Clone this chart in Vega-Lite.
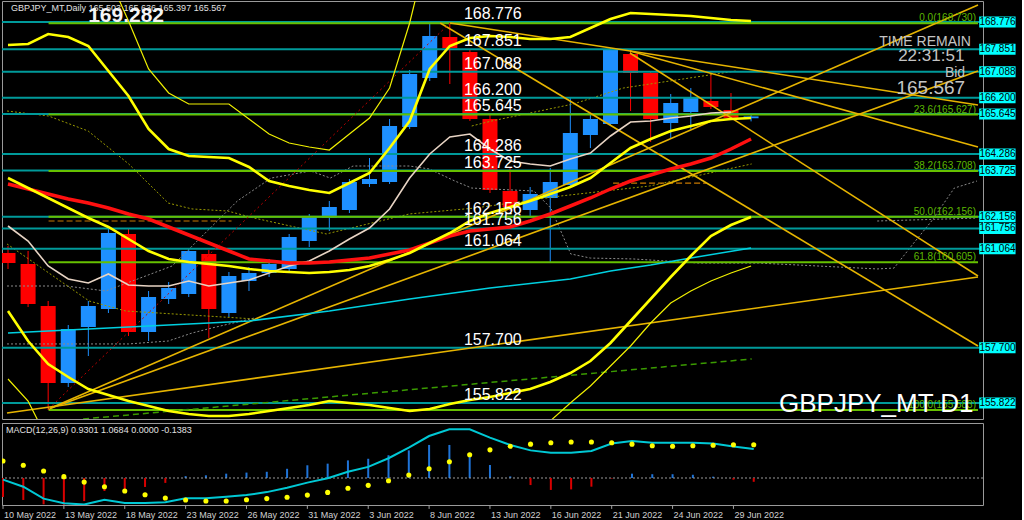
{
"$schema":"https://vega.github.io/schema/vega-lite/v6.json",
"background":"#000000",
"padding":0,
"spacing":2,
"config":{"view":{"stroke":"#9a9a9a","strokeWidth":1},"font":"Liberation Sans"},
"datasets":{
"candles":[
{"i":0,"d":"10 May 2022","o":160.922,"h":161.160,"l":160.378,"c":160.582},
{"i":1,"d":"11 May 2022","o":160.548,"h":160.990,"l":159.086,"c":159.188},
{"i":2,"d":"12 May 2022","o":159.120,"h":159.290,"l":155.583,"c":156.502},
{"i":3,"d":"13 May 2022","o":156.502,"h":158.474,"l":156.366,"c":158.338},
{"i":4,"d":"16 May 2022","o":158.406,"h":159.290,"l":157.420,"c":159.120},
{"i":5,"d":"17 May 2022","o":159.018,"h":161.738,"l":158.882,"c":161.602},
{"i":6,"d":"18 May 2022","o":161.568,"h":161.772,"l":158.100,"c":158.236},
{"i":7,"d":"19 May 2022","o":158.236,"h":159.630,"l":157.930,"c":159.426},
{"i":8,"d":"20 May 2022","o":159.358,"h":159.936,"l":159.188,"c":159.732},
{"i":9,"d":"23 May 2022","o":159.528,"h":161.092,"l":159.426,"c":160.990},
{"i":10,"d":"24 May 2022","o":160.888,"h":161.024,"l":158.032,"c":159.018},
{"i":11,"d":"25 May 2022","o":158.882,"h":160.276,"l":158.746,"c":160.140},
{"i":12,"d":"26 May 2022","o":159.970,"h":160.446,"l":159.630,"c":160.242},
{"i":13,"d":"27 May 2022","o":160.242,"h":160.718,"l":160.106,"c":160.548},
{"i":14,"d":"30 May 2022","o":160.378,"h":161.568,"l":160.310,"c":161.466},
{"i":15,"d":"31 May 2022","o":161.330,"h":162.248,"l":161.126,"c":162.146},
{"i":16,"d":"1 Jun 2022","o":162.112,"h":162.690,"l":161.670,"c":162.486},
{"i":17,"d":"2 Jun 2022","o":162.384,"h":163.438,"l":162.282,"c":163.336},
{"i":18,"d":"3 Jun 2022","o":163.268,"h":164.152,"l":163.166,"c":163.438},
{"i":19,"d":"6 Jun 2022","o":163.336,"h":165.478,"l":163.268,"c":165.240},
{"i":20,"d":"7 Jun 2022","o":165.206,"h":167.144,"l":165.138,"c":167.008},
{"i":21,"d":"8 Jun 2022","o":166.872,"h":168.730,"l":166.770,"c":168.300},
{"i":22,"d":"9 Jun 2022","o":168.266,"h":168.776,"l":166.668,"c":167.892},
{"i":23,"d":"10 Jun 2022","o":167.756,"h":167.858,"l":165.410,"c":165.478},
{"i":24,"d":"13 Jun 2022","o":165.478,"h":165.614,"l":162.962,"c":163.064},
{"i":25,"d":"14 Jun 2022","o":163.030,"h":163.812,"l":162.350,"c":162.486},
{"i":26,"d":"15 Jun 2022","o":162.384,"h":163.166,"l":162.146,"c":162.928},
{"i":27,"d":"16 Jun 2022","o":162.792,"h":163.812,"l":160.582,"c":163.336},
{"i":28,"d":"17 Jun 2022","o":163.234,"h":166.192,"l":163.166,"c":165.002},
{"i":29,"d":"20 Jun 2022","o":164.934,"h":165.614,"l":164.492,"c":165.478},
{"i":30,"d":"21 Jun 2022","o":165.308,"h":167.892,"l":165.240,"c":167.824},
{"i":31,"d":"22 Jun 2022","o":167.688,"h":167.824,"l":165.750,"c":167.042},
{"i":32,"d":"23 Jun 2022","o":167.042,"h":167.110,"l":164.696,"c":165.478},
{"i":33,"d":"24 Jun 2022","o":165.342,"h":166.328,"l":164.832,"c":166.022},
{"i":34,"d":"27 Jun 2022","o":165.716,"h":166.532,"l":165.138,"c":166.192},
{"i":35,"d":"28 Jun 2022","o":166.090,"h":167.008,"l":165.818,"c":165.886},
{"i":36,"d":"29 Jun 2022","o":165.784,"h":166.362,"l":165.480,"c":165.520},
{"i":37,"d":"30 Jun 2022","o":165.503,"h":165.636,"l":165.397,"c":165.567}
],
"ind":[
{"s":"A","i":0,"v":167.994},{"s":"A","i":1,"v":168.028},{"s":"A","i":2,"v":168.368},{"s":"A","i":3,"v":168.266},{"s":"A","i":4,"v":167.960},{"s":"A","i":5,"v":167.110},{"s":"A","i":6,"v":166.260},{"s":"A","i":7,"v":165.138},{"s":"A","i":8,"v":164.458},{"s":"A","i":9,"v":164.220},{"s":"A","i":10,"v":164.186},{"s":"A","i":11,"v":164.152},{"s":"A","i":12,"v":163.846},{"s":"A","i":13,"v":163.370},{"s":"A","i":14,"v":163.200},{"s":"A","i":15,"v":163.064},{"s":"A","i":16,"v":162.962},{"s":"A","i":17,"v":163.302},{"s":"A","i":18,"v":163.642},{"s":"A","i":19,"v":164.492},{"s":"A","i":20,"v":165.410},{"s":"A","i":21,"v":167.178},{"s":"A","i":22,"v":167.960},{"s":"A","i":23,"v":168.232},{"s":"A","i":24,"v":168.300},{"s":"A","i":25,"v":168.266},{"s":"A","i":26,"v":168.198},{"s":"A","i":27,"v":168.198},{"s":"A","i":28,"v":168.266},{"s":"A","i":29,"v":168.572},{"s":"A","i":30,"v":168.878},{"s":"A","i":31,"v":169.082},{"s":"A","i":32,"v":169.048},{"s":"A","i":33,"v":169.014},{"s":"A","i":34,"v":168.980},{"s":"A","i":35,"v":168.912},{"s":"A","i":36,"v":168.844},{"s":"A","i":37,"v":168.810},
{"s":"D","i":0,"v":163.472},{"s":"D","i":1,"v":163.132},{"s":"D","i":2,"v":162.792},{"s":"D","i":3,"v":162.452},{"s":"D","i":4,"v":162.112},{"s":"D","i":5,"v":161.806},{"s":"D","i":6,"v":161.398},{"s":"D","i":7,"v":160.990},{"s":"D","i":8,"v":160.718},{"s":"D","i":9,"v":160.616},{"s":"D","i":10,"v":160.548},{"s":"D","i":11,"v":160.480},{"s":"D","i":12,"v":160.378},{"s":"D","i":13,"v":160.310},{"s":"D","i":14,"v":160.276},{"s":"D","i":15,"v":160.242},{"s":"D","i":16,"v":160.276},{"s":"D","i":17,"v":160.344},{"s":"D","i":18,"v":160.480},{"s":"D","i":19,"v":160.684},{"s":"D","i":20,"v":160.922},{"s":"D","i":21,"v":161.262},{"s":"D","i":22,"v":161.602},{"s":"D","i":23,"v":162.010},{"s":"D","i":24,"v":162.282},{"s":"D","i":25,"v":162.486},{"s":"D","i":26,"v":162.690},{"s":"D","i":27,"v":162.928},{"s":"D","i":28,"v":163.166},{"s":"D","i":29,"v":163.472},{"s":"D","i":30,"v":163.982},{"s":"D","i":31,"v":164.492},{"s":"D","i":32,"v":164.798},{"s":"D","i":33,"v":165.070},{"s":"D","i":34,"v":165.240},{"s":"D","i":35,"v":165.410},{"s":"D","i":36,"v":165.478},{"s":"D","i":37,"v":165.512},
{"s":"C","i":0,"v":158.950},{"s":"C","i":1,"v":157.930},{"s":"C","i":2,"v":157.148},{"s":"C","i":3,"v":156.706},{"s":"C","i":4,"v":156.298},{"s":"C","i":5,"v":156.094},{"s":"C","i":6,"v":155.890},{"s":"C","i":7,"v":155.720},{"s":"C","i":8,"v":155.550},{"s":"C","i":9,"v":155.448},{"s":"C","i":10,"v":155.380},{"s":"C","i":11,"v":155.380},{"s":"C","i":12,"v":155.448},{"s":"C","i":13,"v":155.550},{"s":"C","i":14,"v":155.652},{"s":"C","i":15,"v":155.754},{"s":"C","i":16,"v":155.890},{"s":"C","i":17,"v":155.822},{"s":"C","i":18,"v":155.754},{"s":"C","i":19,"v":155.652},{"s":"C","i":20,"v":155.550},{"s":"C","i":21,"v":155.618},{"s":"C","i":22,"v":155.788},{"s":"C","i":23,"v":155.924},{"s":"C","i":24,"v":156.026},{"s":"C","i":25,"v":156.162},{"s":"C","i":26,"v":156.298},{"s":"C","i":27,"v":156.536},{"s":"C","i":28,"v":156.842},{"s":"C","i":29,"v":157.250},{"s":"C","i":30,"v":157.862},{"s":"C","i":31,"v":158.610},{"s":"C","i":32,"v":159.358},{"s":"C","i":33,"v":160.106},{"s":"C","i":34,"v":160.820},{"s":"C","i":35,"v":161.500},{"s":"C","i":36,"v":161.874},{"s":"C","i":37,"v":162.146},
{"s":"B","i":5,"v":170.340},{"s":"B","i":6,"v":168.810},{"s":"B","i":7,"v":167.178},{"s":"B","i":8,"v":166.362},{"s":"B","i":9,"v":165.988},{"s":"B","i":10,"v":165.988},{"s":"B","i":11,"v":165.988},{"s":"B","i":12,"v":165.478},{"s":"B","i":13,"v":164.968},{"s":"B","i":14,"v":164.662},{"s":"B","i":15,"v":164.526},{"s":"B","i":16,"v":164.424},{"s":"B","i":17,"v":164.968},{"s":"B","i":18,"v":165.512},{"s":"B","i":19,"v":166.532},{"s":"B","i":20,"v":168.742},{"s":"B","i":21,"v":171.530},
{"s":"E1","i":0,"v":156.638},{"s":"E1","i":1,"v":155.890},{"s":"E1","i":2,"v":154.530},
{"s":"E2","i":26,"v":154.530},{"s":"E2","i":27,"v":155.210},{"s":"E2","i":28,"v":155.822},{"s":"E2","i":29,"v":156.400},{"s":"E2","i":30,"v":157.080},{"s":"E2","i":31,"v":157.760},{"s":"E2","i":32,"v":158.542},{"s":"E2","i":33,"v":159.222},{"s":"E2","i":34,"v":159.630},{"s":"E2","i":35,"v":159.970},{"s":"E2","i":36,"v":160.242},{"s":"E2","i":37,"v":160.480},
{"s":"R","i":0,"v":163.268},{"s":"R","i":1,"v":163.098},{"s":"R","i":2,"v":162.928},{"s":"R","i":3,"v":162.758},{"s":"R","i":4,"v":162.622},{"s":"R","i":5,"v":162.452},{"s":"R","i":6,"v":162.248},{"s":"R","i":7,"v":162.078},{"s":"R","i":8,"v":161.806},{"s":"R","i":9,"v":161.534},{"s":"R","i":10,"v":161.262},{"s":"R","i":11,"v":160.990},{"s":"R","i":12,"v":160.718},{"s":"R","i":13,"v":160.650},{"s":"R","i":14,"v":160.582},{"s":"R","i":15,"v":160.582},{"s":"R","i":16,"v":160.616},{"s":"R","i":17,"v":160.684},{"s":"R","i":18,"v":160.752},{"s":"R","i":19,"v":160.888},{"s":"R","i":20,"v":161.024},{"s":"R","i":21,"v":161.262},{"s":"R","i":22,"v":161.500},{"s":"R","i":23,"v":161.670},{"s":"R","i":24,"v":161.738},{"s":"R","i":25,"v":161.806},{"s":"R","i":26,"v":162.010},{"s":"R","i":27,"v":162.248},{"s":"R","i":28,"v":162.520},{"s":"R","i":29,"v":162.792},{"s":"R","i":30,"v":163.098},{"s":"R","i":31,"v":163.370},{"s":"R","i":32,"v":163.574},{"s":"R","i":33,"v":163.778},{"s":"R","i":34,"v":163.948},{"s":"R","i":35,"v":164.152},{"s":"R","i":36,"v":164.458},{"s":"R","i":37,"v":164.798},
{"s":"W","i":0,"v":161.840},{"s":"W","i":1,"v":161.330},{"s":"W","i":2,"v":160.480},{"s":"W","i":3,"v":160.038},{"s":"W","i":4,"v":159.902},{"s":"W","i":5,"v":160.208},{"s":"W","i":6,"v":159.834},{"s":"W","i":7,"v":159.800},{"s":"W","i":8,"v":159.800},{"s":"W","i":9,"v":159.970},{"s":"W","i":10,"v":159.800},{"s":"W","i":11,"v":159.902},{"s":"W","i":12,"v":160.004},{"s":"W","i":13,"v":160.242},{"s":"W","i":14,"v":160.480},{"s":"W","i":15,"v":160.650},{"s":"W","i":16,"v":160.990},{"s":"W","i":17,"v":161.398},{"s":"W","i":18,"v":161.772},{"s":"W","i":19,"v":162.418},{"s":"W","i":20,"v":163.472},{"s":"W","i":21,"v":164.288},{"s":"W","i":22,"v":164.866},{"s":"W","i":23,"v":164.968},{"s":"W","i":24,"v":164.458},{"s":"W","i":25,"v":164.050},{"s":"W","i":26,"v":163.948},{"s":"W","i":27,"v":163.880},{"s":"W","i":28,"v":164.118},{"s":"W","i":29,"v":164.322},{"s":"W","i":30,"v":164.900},{"s":"W","i":31,"v":165.376},{"s":"W","i":32,"v":165.410},{"s":"W","i":33,"v":165.512},{"s":"W","i":34,"v":165.580},{"s":"W","i":35,"v":165.682},{"s":"W","i":36,"v":165.716},
{"s":"M","i":0,"v":158.202},{"s":"M","i":4,"v":158.338},{"s":"M","i":8,"v":158.474},{"s":"M","i":12,"v":158.610},{"s":"M","i":16,"v":158.950},{"s":"M","i":20,"v":159.358},{"s":"M","i":24,"v":159.732},{"s":"M","i":28,"v":160.038},{"s":"M","i":30,"v":160.310},{"s":"M","i":32,"v":160.514},{"s":"M","i":34,"v":160.752},{"s":"M","i":37,"v":161.092}
],
"dots":[
{"s":"S1","i":-0.05,"v":159.80},{"s":"S1","i":2.90,"v":159.80},{"s":"S1","i":4.87,"v":159.63},{"s":"S1","i":8.17,"v":160.48},{"s":"S1","i":11.42,"v":162.69},{"s":"S1","i":13.10,"v":163.47},{"s":"S1","i":15.07,"v":163.71},{"s":"S1","i":16.05,"v":163.47},{"s":"S1","i":17.18,"v":163.88},{"s":"S1","i":19.99,"v":163.88},{"s":"S1","i":20.97,"v":163.78},{"s":"S1","i":22.25,"v":163.37},{"s":"S1","i":23.09,"v":163.13},{"s":"S1","i":26.19,"v":163.03},{"s":"S1","i":27.03,"v":162.45},{"s":"S1","i":28.02,"v":160.89},{"s":"S1","i":29.00,"v":160.75},{"s":"S1","i":31.12,"v":160.72},{"s":"S1","i":34.42,"v":160.58},{"s":"S1","i":37.37,"v":160.58},{"s":"S1","i":43.28,"v":160.38},{"s":"S1","i":44.12,"v":160.41},{"s":"S1","i":45.10,"v":161.26},{"s":"S1","i":45.99,"v":162.01},{"s":"S1","i":47.12,"v":163.13},{"s":"S1","i":48.25,"v":163.37},
{"s":"S2","i":-0.05,"v":157.83},{"s":"S2","i":6.01,"v":157.83},{"s":"S2","i":7.98,"v":157.93},{"s":"S2","i":9.16,"v":158.20},{"s":"S2","i":10.14,"v":158.37},{"s":"S2","i":12.26,"v":158.71},
{"s":"S3","i":43.28,"v":162.01},{"s":"S3","i":48.25,"v":162.11},
{"s":"O1","i":-0.05,"v":165.75},{"s":"O1","i":2.02,"v":165.58},{"s":"O1","i":3.99,"v":165.07},{"s":"O1","i":6.01,"v":163.95},{"s":"O1","i":7.98,"v":162.62},{"s":"O1","i":9.16,"v":162.42},{"s":"O1","i":10.93,"v":162.35},{"s":"O1","i":12.26,"v":162.11},{"s":"O1","i":15.85,"v":161.57},{"s":"O1","i":19.99,"v":162.25},{"s":"O1","i":23.24,"v":162.45},{"s":"O1","i":27.52,"v":162.86},{"s":"O1","i":31.95,"v":163.20},{"s":"O1","i":37.03,"v":163.95},
{"s":"O2","i":-0.05,"v":161.23},{"s":"O2","i":4.04,"v":159.29},{"s":"O2","i":5.86,"v":158.95},{"s":"O2","i":12.26,"v":158.68},
{"s":"O3","i":23.09,"v":165.24},{"s":"O3","i":24.08,"v":165.41},{"s":"O3","i":28.16,"v":165.99},{"s":"O3","i":30.63,"v":166.53},{"s":"O3","i":36.24,"v":167.11},
{"s":"D1","i":2.02,"v":162.01},{"s":"D1","i":11.13,"v":162.01},
{"s":"D2","i":30.13,"v":163.30},{"s":"D2","i":34.76,"v":163.30}
],
"trend":[
{"s":"T1","i":2.02,"v":155.618},{"s":"T1","i":48.3,"v":169.354},
{"s":"T2","i":2.02,"v":155.618},{"s":"T2","i":48.3,"v":167.110},
{"s":"T3","i":-0.05,"v":155.482},{"s":"T3","i":48.3,"v":160.106},
{"s":"T4","i":22.01,"v":168.742},{"s":"T4","i":48.3,"v":165.954},
{"s":"T5","i":21.52,"v":168.742},{"s":"T5","i":48.3,"v":157.760},
{"s":"T6","i":30.97,"v":167.722},{"s":"T6","i":48.3,"v":160.140},
{"s":"T7","i":30.97,"v":167.790},{"s":"T7","i":48.3,"v":164.526},
{"s":"F","i":2.02,"v":155.618},{"s":"F","i":22.01,"v":168.742},
{"s":"G","i":3.74,"v":155.278},{"s":"G","i":37.03,"v":157.318}
],
"levels":[{"v":168.776},{"v":167.851},{"v":167.088},{"v":166.200},{"v":165.645},{"v":164.286},{"v":163.725},{"v":162.156},{"v":161.756},{"v":161.064},{"v":157.700},{"v":155.822}],
"fib":[{"t":"0.0(168.730)","v":168.730},{"t":"23.6(165.627)","v":165.627},{"t":"38.2(163.708)","v":163.708},{"t":"50.0(162.156)","v":162.156},{"t":"61.8(160.605)","v":160.605},{"t":"100.0(155.583)","v":155.583}],
"notes":[
{"k":"hdr","t":"GBPJPY_MT,Daily  165.503 165.636 165.397 165.567","i":0.15,"v":169.252},
{"k":"big","t":"169.282","i":3.99,"v":168.98},
{"k":"tr","t":"TIME REMAIN","i":47.95,"v":168.096},
{"k":"tm","t":"22:31:51","i":47.62,"v":167.62},
{"k":"bid","t":"Bid","i":47.66,"v":167.042},
{"k":"bidv","t":"165.567","i":47.66,"v":166.532},
{"k":"sym","t":"GBPJPY_MT D1","i":48.08,"v":155.788}
],
"macd":[
{"i":0,"h":-0.70,"s":-0.06,"d":0.63},{"i":1,"h":-0.81,"s":-0.32,"d":0.47},{"i":2,"h":-0.97,"s":-0.76,"d":0.26},{"i":3,"h":-0.99,"s":-0.93,"d":0.05},{"i":4,"h":-0.85,"s":-0.98,"d":-0.15},{"i":5,"h":-0.48,"s":-0.80,"d":-0.32},{"i":6,"h":-0.55,"s":-0.92,"d":-0.48},{"i":7,"h":-0.33,"s":-0.92,"d":-0.62},{"i":8,"h":-0.18,"s":-0.89,"d":-0.74},{"i":9,"h":0.07,"s":-0.75,"d":-0.81},{"i":10,"h":0.10,"s":-0.75,"d":-0.85},{"i":11,"h":0.16,"s":-0.69,"d":-0.85},{"i":12,"h":0.20,"s":-0.63,"d":-0.80},{"i":13,"h":0.23,"s":-0.52,"d":-0.76},{"i":14,"h":0.34,"s":-0.36,"d":-0.71},{"i":15,"h":0.47,"s":-0.17,"d":-0.63},{"i":16,"h":0.53,"s":-0.01,"d":-0.53},{"i":17,"h":0.65,"s":0.23,"d":-0.38},{"i":18,"h":0.71,"s":0.41,"d":-0.27},{"i":19,"h":0.84,"s":0.73,"d":-0.10},{"i":20,"h":1.02,"s":1.12,"d":0.11},{"i":21,"h":1.22,"s":1.55,"d":0.34},{"i":22,"h":1.22,"s":1.80,"d":0.60},{"i":23,"h":0.93,"s":1.80,"d":0.86},{"i":24,"h":0.48,"s":1.49,"d":1.04},{"i":25,"h":0.06,"s":1.22,"d":1.17},{"i":26,"h":-0.26,"s":1.02,"d":1.25},{"i":27,"h":-0.44,"s":0.93,"d":1.30},{"i":28,"h":-0.42,"s":0.93,"d":1.33},{"i":29,"h":-0.32,"s":1.00,"d":1.33},{"i":30,"h":-0.02,"s":1.27,"d":1.30},{"i":31,"h":0.16,"s":1.37,"d":1.25},{"i":32,"h":0.14,"s":1.30,"d":1.19},{"i":33,"h":0.14,"s":1.30,"d":1.17},{"i":34,"h":0.12,"s":1.30,"d":1.19},{"i":35,"h":0.05,"s":1.27,"d":1.21},{"i":36,"h":-0.06,"s":1.16,"d":1.23},{"i":37,"h":-0.14,"s":1.07,"d":1.23}
]
},
"vconcat":[
{
"width":981,"height":418,
"layer":[
{"data":{"name":"candles"},"mark":{"type":"rule","strokeWidth":1,"clip":true},
 "encoding":{"x":{"field":"i","type":"quantitative","scale":{"domain":[-0.05,48.3],"nice":false,"zero":false},"axis":null},
 "y":{"field":"l","type":"quantitative","scale":{"domain":[155.278,169.49],"nice":false,"zero":false},
  "axis":{"orient":"right","values":[155.65,156.71,158.83,159.87,160.95,163.05,164.11,165.17,167.29,168.35],"format":".3f","labelColor":"#d0d0d0","labelFont":"Liberation Sans","labelFontSize":10,"tickColor":"#a0a0a0","tickSize":3,"labelPadding":2,"domain":false,"grid":false,"title":null,"labelOverlap":false}},
 "y2":{"field":"h"},
 "color":{"condition":{"test":"datum.c >= datum.o","value":"#1e90ff"},"value":"#ff0000"}}},
{"data":{"name":"candles"},"mark":{"type":"bar","size":15,"clip":true},
 "encoding":{"x":{"field":"i","type":"quantitative","scale":{"domain":[-0.05,48.3],"nice":false,"zero":false},"axis":null},
 "y":{"field":"o","type":"quantitative","scale":{"domain":[155.278,169.49],"nice":false,"zero":false},"axis":null},
 "y2":{"field":"c"},
 "color":{"condition":{"test":"datum.c >= datum.o","value":"#1e90ff"},"value":"#ff0000"}}},
{"data":{"name":"dots"},"transform":[{"filter":"indexof(datum.s,'S')==0"}],"mark":{"type":"line","color":"#8a8a8a","strokeWidth":1,"strokeDash":[2,2],"clip":true},
 "encoding":{"x":{"field":"i","type":"quantitative","scale":{"domain":[-0.05,48.3],"nice":false,"zero":false},"axis":null},
 "y":{"field":"v","type":"quantitative","scale":{"domain":[155.278,169.49],"nice":false,"zero":false},"axis":null},"detail":{"field":"s"}}},
{"data":{"name":"dots"},"transform":[{"filter":"indexof(datum.s,'O')==0"}],"mark":{"type":"line","color":"#9a9a00","strokeWidth":1,"strokeDash":[2,2],"clip":true},
 "encoding":{"x":{"field":"i","type":"quantitative","scale":{"domain":[-0.05,48.3],"nice":false,"zero":false},"axis":null},
 "y":{"field":"v","type":"quantitative","scale":{"domain":[155.278,169.49],"nice":false,"zero":false},"axis":null},"detail":{"field":"s"}}},
{"data":{"name":"dots"},"transform":[{"filter":"indexof(datum.s,'D')==0"}],"mark":{"type":"line","color":"#c87800","strokeWidth":1.2,"strokeDash":[6,3],"clip":true},
 "encoding":{"x":{"field":"i","type":"quantitative","scale":{"domain":[-0.05,48.3],"nice":false,"zero":false},"axis":null},
 "y":{"field":"v","type":"quantitative","scale":{"domain":[155.278,169.49],"nice":false,"zero":false},"axis":null},"detail":{"field":"s"}}},
{"data":{"name":"levels"},"mark":{"type":"rule","color":"#009a9a","strokeWidth":2},
 "encoding":{"y":{"field":"v","type":"quantitative","scale":{"domain":[155.278,169.49],"nice":false,"zero":false},"axis":null}}},
{"data":{"name":"fib"},"mark":{"type":"rule","color":"#66c000","strokeWidth":2,"clip":true},
 "encoding":{"x":{"datum":2.02,"type":"quantitative","scale":{"domain":[-0.05,48.3],"nice":false,"zero":false},"axis":null},"x2":{"datum":48.3},
 "y":{"field":"v","type":"quantitative","scale":{"domain":[155.278,169.49],"nice":false,"zero":false},"axis":null}}},
{"data":{"name":"trend"},"transform":[{"filter":"indexof(datum.s,'T')==0"}],"mark":{"type":"line","color":"#e6b400","strokeWidth":1.6,"clip":true},
 "encoding":{"x":{"field":"i","type":"quantitative","scale":{"domain":[-0.05,48.3],"nice":false,"zero":false},"axis":null},
 "y":{"field":"v","type":"quantitative","scale":{"domain":[155.278,169.49],"nice":false,"zero":false},"axis":null},"detail":{"field":"s"}}},
{"data":{"name":"trend"},"transform":[{"filter":"datum.s=='F'"}],"mark":{"type":"line","color":"#c00000","strokeWidth":1,"strokeDash":[2,3],"clip":true},
 "encoding":{"x":{"field":"i","type":"quantitative","scale":{"domain":[-0.05,48.3],"nice":false,"zero":false},"axis":null},
 "y":{"field":"v","type":"quantitative","scale":{"domain":[155.278,169.49],"nice":false,"zero":false},"axis":null}}},
{"data":{"name":"trend"},"transform":[{"filter":"datum.s=='G'"}],"mark":{"type":"line","color":"#3a9a00","strokeWidth":1.5,"strokeDash":[6,4],"clip":true},
 "encoding":{"x":{"field":"i","type":"quantitative","scale":{"domain":[-0.05,48.3],"nice":false,"zero":false},"axis":null},
 "y":{"field":"v","type":"quantitative","scale":{"domain":[155.278,169.49],"nice":false,"zero":false},"axis":null}}},
{"data":{"name":"ind"},"transform":[{"filter":"datum.s=='M'"}],"mark":{"type":"line","color":"#00d0e0","strokeWidth":1.5,"clip":true},
 "encoding":{"x":{"field":"i","type":"quantitative","scale":{"domain":[-0.05,48.3],"nice":false,"zero":false},"axis":null},
 "y":{"field":"v","type":"quantitative","scale":{"domain":[155.278,169.49],"nice":false,"zero":false},"axis":null}}},
{"data":{"name":"ind"},"transform":[{"filter":"datum.s=='W'"}],"mark":{"type":"line","color":"#e8d4c4","strokeWidth":1.6,"clip":true},
 "encoding":{"x":{"field":"i","type":"quantitative","scale":{"domain":[-0.05,48.3],"nice":false,"zero":false},"axis":null},
 "y":{"field":"v","type":"quantitative","scale":{"domain":[155.278,169.49],"nice":false,"zero":false},"axis":null}}},
{"data":{"name":"ind"},"transform":[{"filter":"datum.s=='R'"}],"mark":{"type":"line","color":"#ff1010","strokeWidth":3.5,"clip":true},
 "encoding":{"x":{"field":"i","type":"quantitative","scale":{"domain":[-0.05,48.3],"nice":false,"zero":false},"axis":null},
 "y":{"field":"v","type":"quantitative","scale":{"domain":[155.278,169.49],"nice":false,"zero":false},"axis":null}}},
{"data":{"name":"ind"},"transform":[{"filter":"datum.s=='B' || datum.s=='E1' || datum.s=='E2'"}],"mark":{"type":"line","color":"#f0f000","strokeWidth":1.2,"clip":true},
 "encoding":{"x":{"field":"i","type":"quantitative","scale":{"domain":[-0.05,48.3],"nice":false,"zero":false},"axis":null},
 "y":{"field":"v","type":"quantitative","scale":{"domain":[155.278,169.49],"nice":false,"zero":false},"axis":null},"detail":{"field":"s"}}},
{"data":{"name":"ind"},"transform":[{"filter":"datum.s=='A' || datum.s=='D' || datum.s=='C'"}],"mark":{"type":"line","color":"#ffff00","strokeWidth":2.6,"clip":true},
 "encoding":{"x":{"field":"i","type":"quantitative","scale":{"domain":[-0.05,48.3],"nice":false,"zero":false},"axis":null},
 "y":{"field":"v","type":"quantitative","scale":{"domain":[155.278,169.49],"nice":false,"zero":false},"axis":null},"detail":{"field":"s"}}},
{"data":{"name":"levels"},"mark":{"type":"text","align":"left","baseline":"alphabetic","dy":-3,"fontSize":16,"color":"#ffffff","font":"Liberation Sans"},
 "encoding":{"x":{"datum":22.7,"type":"quantitative","scale":{"domain":[-0.05,48.3],"nice":false,"zero":false},"axis":null},
 "y":{"field":"v","type":"quantitative","scale":{"domain":[155.278,169.49],"nice":false,"zero":false},"axis":null},
 "text":{"field":"v","format":".3f"}}},
{"data":{"name":"fib"},"mark":{"type":"text","align":"right","baseline":"alphabetic","dy":-2,"fontSize":10,"color":"#5cb800","font":"Liberation Sans"},
 "encoding":{"x":{"datum":48.2,"type":"quantitative","scale":{"domain":[-0.05,48.3],"nice":false,"zero":false},"axis":null},
 "y":{"field":"v","type":"quantitative","scale":{"domain":[155.278,169.49],"nice":false,"zero":false},"axis":null},
 "text":{"field":"t"}}},
{"data":{"name":"notes"},"transform":[{"filter":"datum.k=='hdr'"}],"mark":{"type":"text","align":"left","baseline":"middle","fontSize":9,"color":"#e0e0e0","font":"Liberation Sans"},
 "encoding":{"x":{"field":"i","type":"quantitative","scale":{"domain":[-0.05,48.3],"nice":false,"zero":false},"axis":null},
 "y":{"field":"v","type":"quantitative","scale":{"domain":[155.278,169.49],"nice":false,"zero":false},"axis":null},"text":{"field":"t"}}},
{"data":{"name":"notes"},"transform":[{"filter":"datum.k=='big'"}],"mark":{"type":"text","align":"left","baseline":"middle","fontSize":21,"fontWeight":"bold","color":"#f4f4f4","font":"Liberation Sans"},
 "encoding":{"x":{"field":"i","type":"quantitative","scale":{"domain":[-0.05,48.3],"nice":false,"zero":false},"axis":null},
 "y":{"field":"v","type":"quantitative","scale":{"domain":[155.278,169.49],"nice":false,"zero":false},"axis":null},"text":{"field":"t"}}},
{"data":{"name":"notes"},"transform":[{"filter":"datum.k=='tr'"}],"mark":{"type":"text","align":"right","baseline":"middle","fontSize":14,"color":"#c4c4c4","font":"Liberation Sans"},
 "encoding":{"x":{"field":"i","type":"quantitative","scale":{"domain":[-0.05,48.3],"nice":false,"zero":false},"axis":null},
 "y":{"field":"v","type":"quantitative","scale":{"domain":[155.278,169.49],"nice":false,"zero":false},"axis":null},"text":{"field":"t"}}},
{"data":{"name":"notes"},"transform":[{"filter":"datum.k=='tm'"}],"mark":{"type":"text","align":"right","baseline":"middle","fontSize":17,"color":"#c4c4c4","font":"Liberation Sans"},
 "encoding":{"x":{"field":"i","type":"quantitative","scale":{"domain":[-0.05,48.3],"nice":false,"zero":false},"axis":null},
 "y":{"field":"v","type":"quantitative","scale":{"domain":[155.278,169.49],"nice":false,"zero":false},"axis":null},"text":{"field":"t"}}},
{"data":{"name":"notes"},"transform":[{"filter":"datum.k=='bid'"}],"mark":{"type":"text","align":"right","baseline":"middle","fontSize":14,"color":"#c4c4c4","font":"Liberation Sans"},
 "encoding":{"x":{"field":"i","type":"quantitative","scale":{"domain":[-0.05,48.3],"nice":false,"zero":false},"axis":null},
 "y":{"field":"v","type":"quantitative","scale":{"domain":[155.278,169.49],"nice":false,"zero":false},"axis":null},"text":{"field":"t"}}},
{"data":{"name":"notes"},"transform":[{"filter":"datum.k=='bidv'"}],"mark":{"type":"text","align":"right","baseline":"middle","fontSize":19,"color":"#c4c4c4","font":"Liberation Sans"},
 "encoding":{"x":{"field":"i","type":"quantitative","scale":{"domain":[-0.05,48.3],"nice":false,"zero":false},"axis":null},
 "y":{"field":"v","type":"quantitative","scale":{"domain":[155.278,169.49],"nice":false,"zero":false},"axis":null},"text":{"field":"t"}}},
{"data":{"name":"notes"},"transform":[{"filter":"datum.k=='sym'"}],"mark":{"type":"text","align":"right","baseline":"middle","fontSize":26,"color":"#ffffff","font":"Liberation Sans"},
 "encoding":{"x":{"field":"i","type":"quantitative","scale":{"domain":[-0.05,48.3],"nice":false,"zero":false},"axis":null},
 "y":{"field":"v","type":"quantitative","scale":{"domain":[155.278,169.49],"nice":false,"zero":false},"axis":null},"text":{"field":"t"}}},
{"data":{"name":"levels"},"mark":{"type":"rule","color":"#00ffff","strokeWidth":11,"strokeCap":"butt"},
 "encoding":{"x":{"datum":48.36,"type":"quantitative","scale":{"domain":[-0.05,48.3],"nice":false,"zero":false},"axis":null},"x2":{"datum":50.17},
 "y":{"field":"v","type":"quantitative","scale":{"domain":[155.278,169.49],"nice":false,"zero":false},"axis":null}}},
{"data":{"name":"levels"},"mark":{"type":"text","align":"center","baseline":"middle","fontSize":10,"color":"#000000","font":"Liberation Sans"},
 "encoding":{"x":{"datum":49.27,"type":"quantitative","scale":{"domain":[-0.05,48.3],"nice":false,"zero":false},"axis":null},
 "y":{"field":"v","type":"quantitative","scale":{"domain":[155.278,169.49],"nice":false,"zero":false},"axis":null},
 "text":{"field":"v","format":".3f"}}}
]
},
{
"width":981,"height":82,
"layer":[
{"data":{"name":"macd"},"transform":[{"filter":"datum.h>0"}],"mark":{"type":"rule","color":"#1f74d8","strokeWidth":2,"clip":true},
 "encoding":{"x":{"field":"i","type":"quantitative","scale":{"domain":[-0.05,48.3],"nice":false,"zero":false},"axis":null},
 "y":{"field":"h","type":"quantitative","scale":{"domain":[-0.9958,2.03],"nice":false,"zero":false},
  "axis":{"orient":"right","values":[1.6958,0,-0.9958],"labelExpr":"datum.value==0 ? '0.00' : format(datum.value,'.4f')","labelColor":"#d0d0d0","labelFont":"Liberation Sans","labelFontSize":10,"tickColor":"#a0a0a0","tickSize":3,"labelPadding":2,"domain":false,"grid":false,"title":null,"labelOverlap":false}},
 "y2":{"datum":0}}},
{"data":{"values":[{"z":0}]},"mark":{"type":"rule","color":"#9a9a9a","strokeDash":[2,2],"strokeWidth":1},
 "encoding":{"y":{"field":"z","type":"quantitative","scale":{"domain":[-0.9958,2.03],"nice":false,"zero":false},"axis":null}}},
{"data":{"name":"macd"},"transform":[{"filter":"datum.h<0"}],"mark":{"type":"rule","color":"#d80000","strokeWidth":2,"clip":true},
 "encoding":{"x":{"field":"i","type":"quantitative","scale":{"domain":[-0.05,48.3],"nice":false,"zero":false},"axis":null},
 "y":{"field":"h","type":"quantitative","scale":{"domain":[-0.9958,2.03],"nice":false,"zero":false},"axis":null},"y2":{"datum":0}}},
{"data":{"name":"macd"},"mark":{"type":"line","color":"#00c8d4","strokeWidth":2,"clip":true},
 "encoding":{"x":{"field":"i","type":"quantitative","scale":{"domain":[-0.05,48.3],"nice":false,"zero":false},"axis":null},
 "y":{"field":"s","type":"quantitative","scale":{"domain":[-0.9958,2.03],"nice":false,"zero":false},"axis":null}}},
{"data":{"name":"macd"},"mark":{"type":"circle","color":"#ffff00","size":26,"opacity":1,"clip":true},
 "encoding":{"x":{"field":"i","type":"quantitative","scale":{"domain":[-0.05,48.3],"nice":false,"zero":false},"axis":null},
 "y":{"field":"d","type":"quantitative","scale":{"domain":[-0.9958,2.03],"nice":false,"zero":false},"axis":null}}},
{"data":{"values":[{"t":"MACD(12,26,9) 0.9301 1.0684 0.0000 -0.1383","i":0.15,"v":1.77}]},"mark":{"type":"text","align":"left","baseline":"middle","fontSize":9,"color":"#e0e0e0","font":"Liberation Sans"},
 "encoding":{"x":{"field":"i","type":"quantitative","scale":{"domain":[-0.05,48.3],"nice":false,"zero":false},"axis":null},
 "y":{"field":"v","type":"quantitative","scale":{"domain":[-0.9958,2.03],"nice":false,"zero":false},"axis":null},"text":{"field":"t"}}},
{"data":{"name":"candles"},"transform":[{"filter":"datum.i % 3 == 0"}],"mark":{"type":"rule","color":"#a0a0a0","strokeWidth":1},
 "encoding":{"x":{"field":"i","type":"quantitative","scale":{"domain":[-0.05,48.3],"nice":false,"zero":false},"axis":null},
 "y":{"datum":-0.9958,"type":"quantitative","scale":{"domain":[-0.9958,2.03],"nice":false,"zero":false},"axis":null},"y2":{"datum":-1.14}}},
{"data":{"name":"candles"},"transform":[{"filter":"datum.i % 3 == 0"}],"mark":{"type":"text","align":"left","baseline":"middle","dx":1,"fontSize":9,"color":"#d0d0d0","font":"Liberation Sans"},
 "encoding":{"x":{"field":"i","type":"quantitative","scale":{"domain":[-0.05,48.3],"nice":false,"zero":false},"axis":null},
 "y":{"datum":-1.37,"type":"quantitative","scale":{"domain":[-0.9958,2.03],"nice":false,"zero":false},"axis":null},"text":{"field":"d"}}}
]
}
]
}
